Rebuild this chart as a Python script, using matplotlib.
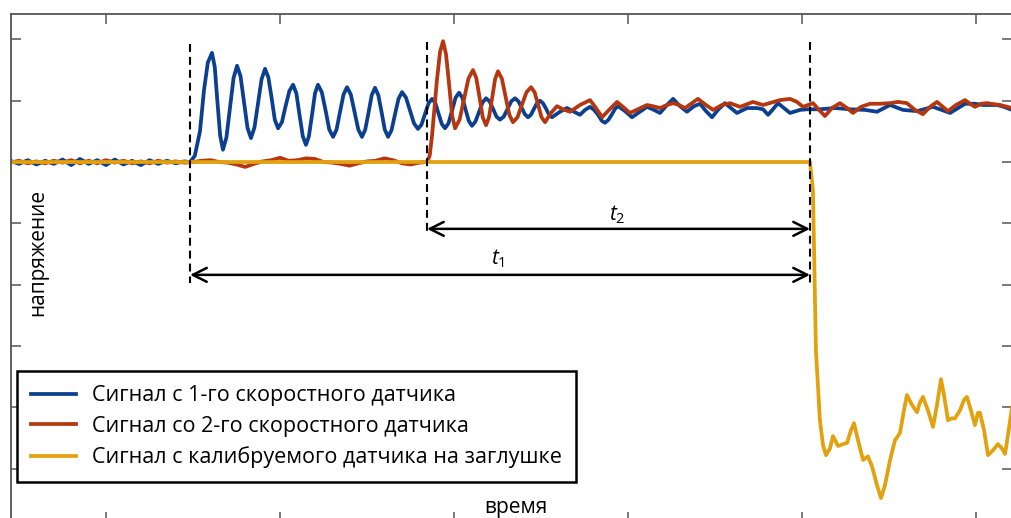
import matplotlib
matplotlib.use("Agg")
import matplotlib.pyplot as plt
import numpy as np

plt.rcParams['font.family'] = ['Open Sans', 'DejaVu Sans']
plt.rcParams['mathtext.fontset'] = 'custom'
plt.rcParams['mathtext.it'] = 'Open Sans:italic'
plt.rcParams['mathtext.rm'] = 'Open Sans'

# time in ms, voltage in arbitrary units
t_base = np.arange(-5.5, 4.51, 0.5)
blue_base = [0.02, -0.03, 0.03, -0.04, 0.02, -0.03, 0.04, -0.05, 0.05, -0.03, 0.03,
             -0.05, 0.04, -0.04, 0.02, -0.05, 0.03, -0.03, 0.02, -0.02, 0.01]

blue_pts = [(4.83, 0.0), (5.10, 0.10), (5.40, 0.50), (5.63, 1.17), (5.85, 1.62), (6.09, 1.78),
            (6.25, 1.55), (6.40, 0.99), (6.56, 0.43), (6.72, 0.20),
            (6.92, 0.40), (7.13, 0.89), (7.33, 1.37), (7.53, 1.57),
            (7.73, 1.40), (7.93, 0.98), (8.13, 0.56), (8.33, 0.39),
            (8.53, 0.56), (8.74, 0.96), (8.94, 1.35), (9.14, 1.52),
            (9.33, 1.38), (9.52, 1.04), (9.70, 0.69), (9.89, 0.55),
            (10.11, 0.65), (10.32, 0.91), (10.54, 1.16), (10.75, 1.26),
            (10.94, 1.12), (11.12, 0.77), (11.31, 0.42), (11.49, 0.28),
            (11.66, 0.42), (11.84, 0.77), (12.01, 1.12), (12.18, 1.26),
            (12.40, 1.14), (12.62, 0.84), (12.83, 0.53), (13.05, 0.41),
            (13.25, 0.53), (13.45, 0.82), (13.65, 1.10), (13.85, 1.22),
            (14.07, 1.10), (14.28, 0.82), (14.50, 0.53), (14.71, 0.41),
            (14.90, 0.53), (15.09, 0.81), (15.27, 1.09), (15.46, 1.21),
            (15.65, 1.09), (15.84, 0.81), (16.02, 0.53), (16.21, 0.41),
            (16.41, 0.52), (16.61, 0.78), (16.81, 1.03), (17.01, 1.14),
            (17.24, 1.05), (17.47, 0.84), (17.70, 0.63), (17.93, 0.54),
            (18.13, 0.61), (18.34, 0.79), (18.54, 0.96), (18.74, 1.03),
            (18.93, 0.96), (19.11, 0.79), (19.30, 0.62), (19.48, 0.55),
            (19.68, 0.63), (19.89, 0.84), (20.09, 1.05), (20.29, 1.13),
            (20.48, 1.05), (20.66, 0.86), (20.85, 0.67), (21.03, 0.59),
            (21.23, 0.66), (21.44, 0.82), (21.64, 0.97), (21.84, 1.04),
            (22.04, 0.99), (22.24, 0.87), (22.44, 0.74), (22.64, 0.69),
            (22.86, 0.74), (23.08, 0.87), (23.29, 0.99), (23.51, 1.04),
            (23.70, 0.99), (23.88, 0.89), (24.07, 0.78), (24.25, 0.73),
            (24.42, 0.77), (24.60, 0.87), (24.77, 0.96), (24.94, 1.00),
            (25.11, 0.96), (25.29, 0.87), (25.46, 0.77), (25.63, 0.73),
            (26.09, 0.82), (26.49, 0.88), (26.90, 0.82), (27.24, 0.77), (27.53, 0.85),
            (27.82, 0.90), (28.05, 0.85), (28.28, 0.77), (28.50, 0.67), (28.68, 0.64),
            (28.88, 0.69), (29.08, 0.78), (29.26, 0.87), (29.43, 0.91), (29.83, 0.83),
            (30.23, 0.73), (30.69, 0.82), (31.09, 0.90), (31.49, 0.85), (31.84, 0.80),
            (32.24, 0.93), (32.59, 1.03), (32.99, 0.91), (33.39, 0.82), (33.79, 0.91),
            (34.14, 0.95), (34.48, 0.83), (34.83, 0.73), (35.17, 0.85), (35.57, 0.96),
            (35.92, 0.88), (36.26, 0.80), (36.84, 0.88), (37.41, 0.88), (37.76, 0.86),
            (38.05, 0.77), (38.33, 0.86), (38.62, 0.96), (38.97, 0.88), (39.31, 0.80),
            (39.89, 0.85), (40.29, 0.86), (41.03, 0.86), (41.90, 0.88), (42.76, 0.86),
            (43.62, 0.85), (44.31, 0.82), (45.06, 0.93), (45.80, 0.85), (46.61, 0.83),
            (47.53, 0.90), (48.51, 0.80), (48.97, 0.88), (49.37, 0.95), (49.94, 0.95),
            (50.40, 0.93), (51.21, 0.93), (51.61, 0.90), (52.07, 0.85)]

t_base_red = np.arange(-5.5, 18.01, 0.5)
red_base = [-0.01, 0.02, -0.02, 0.01, -0.02, 0.02, -0.01, 0.03, -0.02, 0.02, -0.02, 0.03,
            -0.01, 0.02, -0.02, 0.01, -0.02, 0.02, -0.01, 0.01, -0.01, 0.0, 0.02, 0.03,
            0.0, -0.01, -0.04, -0.08, -0.03, 0.01, 0.03, 0.07, 0.02, 0.03, 0.06, 0.05,
            0.0, -0.01, -0.03, -0.06, -0.02, 0.01, 0.02, 0.06, 0.03, -0.02, -0.04, -0.01]

red_pts = [(18.45, 0.0), (18.60, 0.10), (18.74, 0.44), (18.90, 0.95), (19.02, 1.34),
           (19.20, 1.80), (19.37, 1.97),
           (19.54, 1.76), (19.72, 1.26), (19.89, 0.76), (20.06, 0.55),
           (20.32, 0.69), (20.58, 1.03), (20.83, 1.36), (21.09, 1.50),
           (21.28, 1.37), (21.47, 1.05), (21.65, 0.73), (21.84, 0.60),
           (22.01, 0.73), (22.19, 1.04), (22.36, 1.35), (22.53, 1.48),
           (22.75, 1.36), (22.96, 1.07), (23.18, 0.77), (23.39, 0.65),
           (23.65, 0.73), (23.91, 0.94), (24.17, 1.14), (24.43, 1.22),
           (24.63, 1.14), (24.83, 0.94), (25.03, 0.73), (25.23, 0.65),
           (25.57, 0.80), (25.92, 0.91), (26.26, 0.86), (26.67, 0.82), (27.24, 0.93),
           (27.82, 1.01), (28.16, 0.88), (28.51, 0.73), (28.91, 0.85), (29.37, 0.98),
           (29.71, 0.90), (30.11, 0.80), (30.57, 0.86), (31.09, 0.93), (31.44, 0.91),
           (31.84, 0.88), (32.24, 0.93), (32.59, 0.96), (32.93, 0.93), (33.28, 0.88),
           (33.68, 0.96), (34.02, 1.03), (34.48, 0.93), (34.89, 0.85), (35.40, 0.93),
           (35.86, 0.96), (36.44, 0.90), (37.18, 0.98), (37.76, 0.93), (38.74, 1.01),
           (39.31, 1.03), (39.71, 0.98), (40.06, 0.90), (40.63, 0.96), (40.98, 0.85),
           (41.32, 0.75), (41.72, 0.88), (42.18, 0.96), (42.59, 0.88), (42.93, 0.80),
           (43.39, 0.90), (43.91, 0.95), (44.48, 0.95), (45.06, 0.96), (45.52, 0.98),
           (46.03, 0.96), (46.49, 0.85), (46.95, 0.78), (47.36, 0.90), (47.76, 0.98),
           (48.10, 0.90), (48.39, 0.83), (48.85, 0.93), (49.37, 1.01), (49.66, 0.95),
           (49.94, 0.90), (50.29, 0.95), (50.63, 0.96), (51.38, 0.93), (52.07, 0.88)]

yel_t = [-5.5, 4.83, 18.45, 40.46, 40.63, 40.80, 41.03, 41.21, 41.38, 41.61, 41.78, 42.07,
         42.36, 42.59, 42.82, 42.99, 43.22, 43.51, 43.79, 44.02, 44.31, 44.54, 44.77, 45.06,
         45.34, 45.63, 45.86, 46.03, 46.32, 46.61, 46.78, 46.95, 47.24, 47.53, 47.76, 47.99,
         48.16, 48.39, 48.62, 48.79, 49.08, 49.31, 49.48, 49.71, 49.94, 50.11, 50.23, 50.46,
         50.69, 50.98, 51.26, 51.49, 51.67, 51.84, 52.07]
yel_v = [0.0, 0.0, 0.0, 0.0, -0.46, -3.07, -4.21, -4.62, -4.78, -4.67, -4.47, -4.63,
         -4.60, -4.58, -4.37, -4.26, -4.54, -4.86, -4.80, -4.96, -5.27, -5.48, -5.27, -4.86,
         -4.54, -4.42, -4.05, -3.80, -3.96, -4.08, -3.92, -3.83, -4.05, -4.32, -3.96, -3.54,
         -3.80, -4.21, -4.18, -4.18, -4.05, -3.88, -3.83, -4.05, -4.29, -4.09, -4.09, -4.37,
         -4.78, -4.70, -4.60, -4.67, -4.76, -4.45, -4.00]

events = [4.83, 18.45, 40.46]
event_top = [1.92, 1.96, 1.96]
event_bottom = [-1.97, -1.14, -1.97]
t2_level, t1_level = -1.09, -1.84

labels = ['Сигнал с 1-го скоростного датчика',
          'Сигнал со 2-го скоростного датчика',
          'Сигнал с калибруемого датчика на заглушке']
colors = ['#0b3f8f', '#b5360f', '#e2a10f']

fig = plt.figure(figsize=(10.11, 5.18), dpi=100)
ax = fig.add_axes([0.0109, -0.0077, 0.9901, 0.9807])

bt, bv = zip(*blue_pts)
rt, rv = zip(*red_pts)
ax.plot(np.concatenate([t_base, bt]), np.concatenate([blue_base, bv]),
        color=colors[0], lw=2.7, label=labels[0], solid_joinstyle='round')
ax.plot(np.concatenate([t_base_red, rt]), np.concatenate([red_base, rv]),
        color=colors[1], lw=2.7, label=labels[1], solid_joinstyle='round')
ax.plot(yel_t, yel_v, color=colors[2], lw=2.7, label=labels[2], solid_joinstyle='round')

for t, a, b in zip(events, event_top, event_bottom):
    ax.plot([t, t], [a, b], color='k', lw=1.5, dashes=(3.8, 2.4))

arrow = dict(arrowstyle='<->,head_length=0.5,head_width=0.25', lw=1.8, color='k',
             mutation_scale=20, shrinkA=0, shrinkB=0)
ax.annotate('', xy=(events[2], t2_level), xytext=(events[1], t2_level), arrowprops=arrow)
ax.annotate('', xy=(events[2], t1_level), xytext=(events[0], t1_level), arrowprops=arrow)
ax.text(29.4, -0.86, r'$t_{\mathit{2}}$', fontsize=15, ha='center', va='center')
ax.text(22.55, -1.57, r'$t_{\mathit{1}}$', fontsize=15, ha='center', va='center')

ax.set_xlim(-5.46, 52.07)
ax.set_ylim(-5.87, 2.414)
ax.set_xticks(np.arange(0, 60, 10))
ax.set_yticks(np.arange(-5, 3, 1))
ax.tick_params(direction='in', length=7, width=1.1, color='#555',
               top=True, right=True, labelleft=False, labelbottom=False)
for s in ax.spines.values():
    s.set_color('#555')
    s.set_linewidth(1.3)

ax.text(0.5045, 0.0276, 'время', transform=ax.transAxes, fontsize=15,
        ha='center', va='center')
ax.text(0.027, 0.53, 'напряжение', transform=ax.transAxes, fontsize=15,
        ha='center', va='center', rotation=90)

leg = ax.legend(loc='upper left', bbox_to_anchor=(0.006, 0.297), borderaxespad=0,
                fontsize=15.5, frameon=True, fancybox=False, framealpha=1,
                edgecolor='k', borderpad=0.65, labelspacing=0.45,
                handlelength=2.1, handletextpad=0.75)
leg.get_frame().set_linewidth(1.8)

fig.savefig('out.png', dpi=100)
